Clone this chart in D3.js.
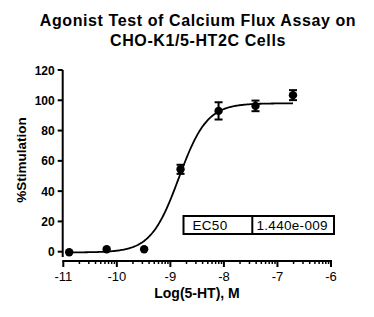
<!DOCTYPE html>
<html>
<head>
<meta charset="utf-8">
<script src="https://cdn.jsdelivr.net/npm/d3@7"></script>
<style>
  body { margin: 0; background: #fff; }
  text { font-family: "Liberation Sans", Arial, sans-serif; }
</style>
</head>
<body>
<div id="chart"></div>
<script>
// log concentrations (5-fold dilutions) and responses
var logConc = [-10.89, -10.19, -9.49, -8.81, -8.10, -7.41, -6.71];
var stimulation = [-0.4, 1.6, 1.6, 54.4, 93.0, 96.3, 103.4];
var errorSem = [0.8, 0.8, 0.8, 3.0, 5.7, 3.5, 3.3];

// fit parameters
var fitBottom = -0.5, fitTop = 98.0, fitLogEC50 = Math.log10(1.440e-9), fitHill = 1.66;

var xTicks = [-11, -10, -9, -8, -7, -6];
var yTicks = [0, 20, 40, 60, 80, 100, 120];
var titleLines = ["Agonist Test of Calcium Flux Assay on", "CHO-K1/5-HT2C Cells"];

var width = 374, height = 317;
var svg = d3.select("#chart").append("svg")
    .attr("width", width).attr("height", height);

var x = d3.scaleLinear().domain([-11, -6]).range([63.3, 331]);
var y = d3.scaleLinear().domain([0, 120]).range([251.7, 70]);

// title
svg.append("g").selectAll("text").data(titleLines).enter().append("text")
    .attr("x", 198).attr("y", function (d, i) { return 26 + i * 19.5; })
    .attr("text-anchor", "middle")
    .style("font-size", "16px").style("font-weight", "bold").style("letter-spacing", "0.6px")
    .text(function (d) { return d; });

// y axis
var yAxis = svg.append("g").attr("transform", "translate(62.7,0)");
yAxis.append("line").attr("y1", 70).attr("y2", 257)
    .attr("stroke", "#000").attr("stroke-width", 2);
yAxis.selectAll(".tk").data(yTicks).enter().append("line")
    .attr("x1", -5).attr("x2", 0)
    .attr("y1", function (d) { return y(d); }).attr("y2", function (d) { return y(d); })
    .attr("stroke", "#000").attr("stroke-width", 2);
yAxis.selectAll(".lb").data(yTicks).enter().append("text")
    .attr("x", -8).attr("y", function (d) { return y(d) + 4.5; })
    .attr("text-anchor", "end")
    .style("font-size", "12px").style("font-weight", "bold")
    .text(function (d) { return d; });

// x axis with log minor ticks
var xAxis = svg.append("g").attr("transform", "translate(0,261)");
xAxis.append("line").attr("x1", x(-11) - 1).attr("x2", x(-6) + 1)
    .attr("stroke", "#000").attr("stroke-width", 2);
var minor = [];
xTicks.slice(0, -1).forEach(function (t) {
    for (var k = 2; k <= 9; k++) minor.push(t + Math.log10(k));
});
xAxis.selectAll(".mn").data(minor).enter().append("line")
    .attr("x1", function (d) { return x(d); }).attr("x2", function (d) { return x(d); })
    .attr("y1", 0).attr("y2", 3)
    .attr("stroke", "#000").attr("stroke-width", 1.5);
xAxis.selectAll(".tk").data(xTicks).enter().append("line")
    .attr("x1", function (d) { return x(d); }).attr("x2", function (d) { return x(d); })
    .attr("y1", 0).attr("y2", 6)
    .attr("stroke", "#000").attr("stroke-width", 2);
xAxis.selectAll(".lb").data(xTicks).enter().append("text")
    .attr("x", function (d) { return x(d); }).attr("y", 20)
    .attr("text-anchor", "middle")
    .style("font-size", "13px")
    .text(function (d) { return d; });

// axis titles
svg.append("text")
    .attr("transform", "translate(26,160) rotate(-90)")
    .attr("text-anchor", "middle")
    .style("font-size", "13.5px").style("font-weight", "bold")
    .text("%Stimulation");
svg.append("text")
    .attr("x", 197).attr("y", 298)
    .attr("text-anchor", "middle")
    .style("font-size", "14px").style("font-weight", "bold")
    .text("Log(5-HT), M");

// fitted curve
var curvePts = d3.range(-10.89, -6.70, 0.02).map(function (lx) {
    return [lx, fitBottom + (fitTop - fitBottom) / (1 + Math.pow(10, (fitLogEC50 - lx) * fitHill))];
});
svg.append("path").datum(curvePts)
    .attr("fill", "none").attr("stroke", "#000").attr("stroke-width", 1.8)
    .attr("d", d3.line().x(function (d) { return x(d[0]); }).y(function (d) { return y(d[1]); }));

// error bars and points
var pts = logConc.map(function (c, i) { return { c: c, v: stimulation[i], e: errorSem[i] }; });
var eb = svg.append("g").attr("stroke", "#000").attr("stroke-width", 2);
pts.forEach(function (d) {
    if (d.e < 2) return;
    var cx = x(d.c);
    eb.append("line").attr("x1", cx).attr("x2", cx).attr("y1", y(d.v - d.e)).attr("y2", y(d.v + d.e));
    eb.append("line").attr("x1", cx - 4).attr("x2", cx + 4).attr("y1", y(d.v - d.e)).attr("y2", y(d.v - d.e));
    eb.append("line").attr("x1", cx - 4).attr("x2", cx + 4).attr("y1", y(d.v + d.e)).attr("y2", y(d.v + d.e));
});
svg.append("g").selectAll("circle").data(pts).enter().append("circle")
    .attr("cx", function (d) { return x(d.c); }).attr("cy", function (d) { return y(d.v); })
    .attr("r", 4.2).attr("fill", "#000");

// EC50 box
var box = svg.append("g");
box.append("rect").attr("x", 183.5).attr("y", 216).attr("width", 150.5).attr("height", 18)
    .attr("fill", "#fff").attr("stroke", "#000").attr("stroke-width", 2);
box.append("line").attr("x1", 252.3).attr("x2", 252.3).attr("y1", 216).attr("y2", 234)
    .attr("stroke", "#000").attr("stroke-width", 2);
box.append("text").attr("x", 192.5).attr("y", 229.5)
    .style("font-size", "13.5px").style("letter-spacing", "0.3px").text("EC50");
box.append("text").attr("x", 256.5).attr("y", 229.5)
    .style("font-size", "13.5px").style("letter-spacing", "0.3px").text("1.440e-009");
</script>
</body>
</html>
